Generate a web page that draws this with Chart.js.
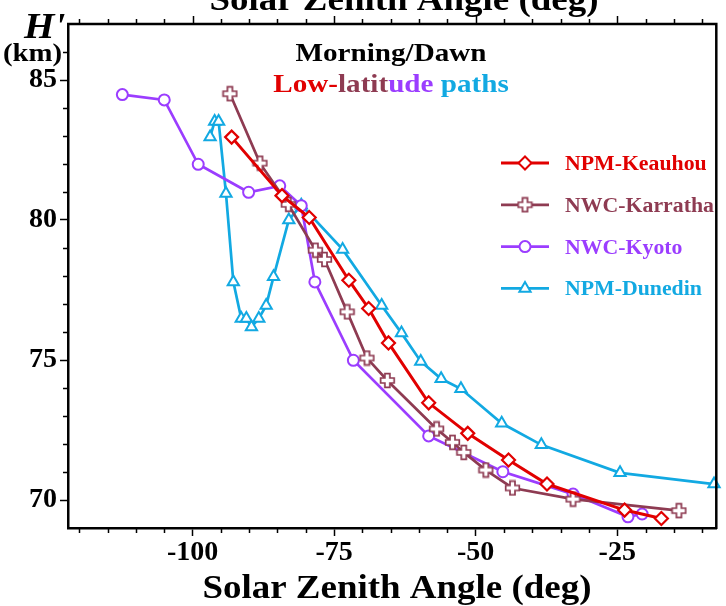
<!DOCTYPE html>
<html>
<head>
<meta charset="utf-8">
<script src="https://cdn.jsdelivr.net/npm/chart.js@4"></script>
<style>
  html, body { margin: 0; padding: 0; background: #fff; }
  #wrap { width: 726px; height: 606px; }
</style>
</head>
<body>
<div id="wrap"><canvas id="myChart" width="726" height="606"></canvas></div>
<script>
// Series values (solar zenith angle in deg, H' in km)
const keauhouSza = [-93.1, -84.2, -79.4, -72.4, -68.9, -65.4, -58.3, -51.4, -44.2, -37.4, -23.7, -17.2];
const keauhouH   = [82.96, 80.87, 80.09, 77.85, 76.84, 75.61, 73.47, 72.38, 71.43, 70.57, 69.64, 69.34];

const karrathaSza = [-93.4, -88.1, -83.1, -78.3, -76.7, -72.7, -69.2, -65.6, -56.9, -54.1, -52.1, -48.2, -43.5, -32.8, -14.1];
const karrathaH   = [84.51, 82.03, 80.56, 78.92, 78.59, 76.72, 75.07, 74.27, 72.54, 72.06, 71.70, 71.07, 70.43, 70.03, 69.62];

const kyotoSza = [-112.4, -105.0, -99.0, -90.1, -84.6, -80.8, -78.4, -71.6, -58.3, -45.2, -32.8, -23.1, -20.6];
const kyotoH   = [84.48, 84.29, 81.99, 80.99, 81.22, 80.51, 77.79, 74.99, 72.29, 71.01, 70.21, 69.40, 69.50];

const dunedinSza = [-96.9, -96.1, -95.4, -94.1, -92.8, -91.4, -90.5, -89.6, -88.3, -87.0, -85.7, -83.0, -80.8, -73.5, -66.6, -63.1, -59.7, -56.1, -52.6, -45.4, -38.4, -24.5, -7.9];
const dunedinH   = [82.96, 83.52, 83.52, 80.95, 77.79, 76.48, 76.48, 76.18, 76.48, 76.95, 77.97, 80.00, 80.53, 78.95, 76.95, 75.96, 74.95, 74.33, 73.97, 72.74, 71.97, 70.97, 70.57];

const seriesNames = ['NPM-Keauhou', 'NWC-Karratha', 'NWC-Kyoto', 'NPM-Dunedin'];

// Tick labels
const xTicks = [-100, -75, -50, -25];
const yTicks = [70, 75, 80, 85];

const FONT = '"Liberation Serif", "Times New Roman", Times, serif';
const RED = '#e10000', BROWN = '#8e3b52', PURPLE = '#9b3dff', CYAN = '#12a9e2';
const SX = 1.12; // the original lettering is a little wide

// Outlined plus marker (not a built-in point style)
function plusMarker(color) {
    const c = document.createElement('canvas');
    c.width = 17; c.height = 17;
    const g = c.getContext('2d');
    const m = 8.5, a = 2.5, b = 6.8;
    g.beginPath();
    g.moveTo(m - a, m - b); g.lineTo(m + a, m - b); g.lineTo(m + a, m - a);
    g.lineTo(m + b, m - a); g.lineTo(m + b, m + a); g.lineTo(m + a, m + a);
    g.lineTo(m + a, m + b); g.lineTo(m - a, m + b); g.lineTo(m - a, m + a);
    g.lineTo(m - b, m + a); g.lineTo(m - b, m - a); g.lineTo(m - a, m - a);
    g.closePath();
    g.fillStyle = '#fff'; g.fill();
    g.strokeStyle = color; g.lineWidth = 1.7; g.stroke();
    return c;
}
const plusImg = plusMarker(BROWN);

function pairs(xs, ys) {
    return xs.map((v, i) => ({ x: v, y: ys[i] }));
}

// Draw a legend marker the same way as the series
function legendMarker(ctx, style, color, x, y) {
    ctx.save();
    ctx.fillStyle = '#fff';
    ctx.strokeStyle = color;
    ctx.lineWidth = 2;
    ctx.beginPath();
    if (style === 'rectRot') {
        const r = 6.5;
        ctx.moveTo(x - r, y); ctx.lineTo(x, y - r); ctx.lineTo(x + r, y); ctx.lineTo(x, y + r);
        ctx.closePath();
    } else if (style === 'circle') {
        ctx.arc(x, y, 5.5, 0, Math.PI * 2);
    } else if (style === 'triangle') {
        const r = 6.5;
        ctx.moveTo(x, y - r);
        ctx.lineTo(x + r * Math.cos(Math.PI / 6), y + r / 2);
        ctx.lineTo(x - r * Math.cos(Math.PI / 6), y + r / 2);
        ctx.closePath();
    } else {
        ctx.restore();
        ctx.drawImage(style, x - style.width / 2, y - style.height / 2);
        return;
    }
    ctx.fill();
    ctx.stroke();
    ctx.restore();
}

function stretchText(ctx, str, x, y, font, color, align, sx) {
    ctx.save();
    ctx.font = font;
    ctx.fillStyle = color;
    ctx.textAlign = align || 'left';
    ctx.textBaseline = 'alphabetic';
    ctx.translate(x, y);
    ctx.scale(sx || SX, 1);
    ctx.fillText(str, 0, 0);
    ctx.restore();
}

// Frame, minor ticks, titles and legend
const decorations = {
    id: 'decorations',
    afterDraw(chart) {
        const { ctx, chartArea: a, scales: { x, y } } = chart;
        ctx.save();
        ctx.strokeStyle = '#000';
        ctx.lineWidth = 2.5;
        ctx.beginPath();
        ctx.moveTo(a.left - 1, a.top);
        ctx.lineTo(a.right, a.top);
        ctx.lineTo(a.right, a.bottom + 1);
        ctx.stroke();

        ctx.lineWidth = 1.5;
        for (let v = -120; v <= -10; v += 5) {
            const px = Math.round(x.getPixelForValue(v)) + 0.5;
            const major = xTicks.includes(v);
            ctx.beginPath();
            ctx.moveTo(px, a.top);
            ctx.lineTo(px, a.top - (major ? 8 : 5));
            if (!major) {
                ctx.moveTo(px, a.bottom);
                ctx.lineTo(px, a.bottom + 5);
            }
            ctx.stroke();
        }
        for (let v = 70; v <= 86; v += 1) {
            if (yTicks.includes(v)) continue;
            const py = Math.round(y.getPixelForValue(v)) + 0.5;
            ctx.beginPath();
            ctx.moveTo(a.left, py);
            ctx.lineTo(a.left - 5, py);
            ctx.stroke();
        }
        ctx.restore();

        // axis titles (the top one is cut off by the image edge)
        const title = 'Solar Zenith Angle (deg)';
        stretchText(ctx, title, 397, 598, 'bold 33px ' + FONT, '#000', 'center');
        stretchText(ctx, title, 404, 10, 'bold 33px ' + FONT, '#000', 'center');
        stretchText(ctx, "H'", 24, 38, 'italic bold 35px ' + FONT, '#000', 'left');
        stretchText(ctx, '(km)', 3, 61, 'bold 25px ' + FONT, '#000', 'left', 1.15);

        // annotation
        stretchText(ctx, 'Morning/Dawn', 391, 61, 'bold 26px ' + FONT, '#000', 'center');
        const parts = [['Low-', RED], ['latit', BROWN], ['ude', PURPLE], [' paths', CYAN]];
        ctx.save();
        ctx.font = 'bold 26px ' + FONT;
        const widths = parts.map(p => ctx.measureText(p[0]).width * SX);
        ctx.restore();
        let cx = 391 - widths.reduce((s, w) => s + w, 0) / 2;
        parts.forEach((p, i) => {
            stretchText(ctx, p[0], cx, 92, 'bold 26px ' + FONT, p[1], 'left');
            cx += widths[i];
        });

        // legend
        chart.data.datasets.forEach((ds, i) => {
            const ry = 163 + i * 41.8;
            ctx.save();
            ctx.strokeStyle = ds.borderColor;
            ctx.lineWidth = ds.borderWidth;
            ctx.beginPath();
            ctx.moveTo(501, ry);
            ctx.lineTo(549, ry);
            ctx.stroke();
            ctx.restore();
            legendMarker(ctx, ds.pointStyle, ds.borderColor, 525, ry);
            stretchText(ctx, ds.label, 565, ry + 7, 'bold 20px ' + FONT, ds.borderColor, 'left', 1.09);
        });
    }
};

function buildChart() {
    const ctx = document.getElementById('myChart').getContext('2d');
    return new Chart(ctx, {
        type: 'line',
        data: {
            datasets: [
                { label: seriesNames[0], data: pairs(keauhouSza, keauhouH), borderColor: RED, borderWidth: 3,
                  pointStyle: 'rectRot', pointRadius: 6.5, pointBorderWidth: 2.2 },
                { label: seriesNames[1], data: pairs(karrathaSza, karrathaH), borderColor: BROWN, borderWidth: 2.7,
                  pointStyle: plusImg, pointRadius: 7 },
                { label: seriesNames[2], data: pairs(kyotoSza, kyotoH), borderColor: PURPLE, borderWidth: 2.7,
                  pointStyle: 'circle', pointRadius: 5.5, pointBorderWidth: 2 },
                { label: seriesNames[3], data: pairs(dunedinSza, dunedinH), borderColor: CYAN, borderWidth: 2.7,
                  pointStyle: 'triangle', pointRadius: 6.5, pointBorderWidth: 2 }
            ].map(ds => Object.assign(ds, {
                pointBackgroundColor: '#fff',
                pointBorderColor: ds.borderColor,
                backgroundColor: ds.borderColor,
                tension: 0,
                fill: false,
                clip: false
            }))
        },
        options: {
            responsive: false,
            animation: false,
            devicePixelRatio: 1,
            layout: { padding: { top: 24, right: 3, left: 0, bottom: 0 } },
            plugins: { legend: { display: false }, tooltip: { enabled: false } },
            scales: {
                x: {
                    type: 'linear',
                    min: -122,
                    max: -7.5,
                    afterFit: s => { s.height = 78; },
                    afterBuildTicks: s => { s.ticks = xTicks.map(v => ({ value: v })); },
                    grid: { drawOnChartArea: false, drawTicks: true, tickLength: 8, tickWidth: 1.5, tickColor: '#000' },
                    border: { display: true, color: '#000', width: 2.5 },
                    ticks: { color: '#000', padding: 0, maxRotation: 0, font: { family: FONT, size: 28, weight: 'bold' } }
                },
                y: {
                    min: 69,
                    max: 87,
                    afterFit: s => { s.width = 68; },
                    afterBuildTicks: s => { s.ticks = yTicks.map(v => ({ value: v })); },
                    grid: { drawOnChartArea: false, drawTicks: true, tickLength: 8, tickWidth: 1.5, tickColor: '#000' },
                    border: { display: true, color: '#000', width: 2.5 },
                    ticks: { color: '#000', padding: 3, font: { family: FONT, size: 28, weight: 'bold' } }
                }
            }
        },
        plugins: [decorations]
    });
}

// make sure the serif face is ready before drawing to canvas
Promise.all([
    document.fonts.load('bold 20px "Liberation Serif"'),
    document.fonts.load('italic bold 20px "Liberation Serif"')
]).catch(() => {}).then(buildChart);
</script>
</body>
</html>
